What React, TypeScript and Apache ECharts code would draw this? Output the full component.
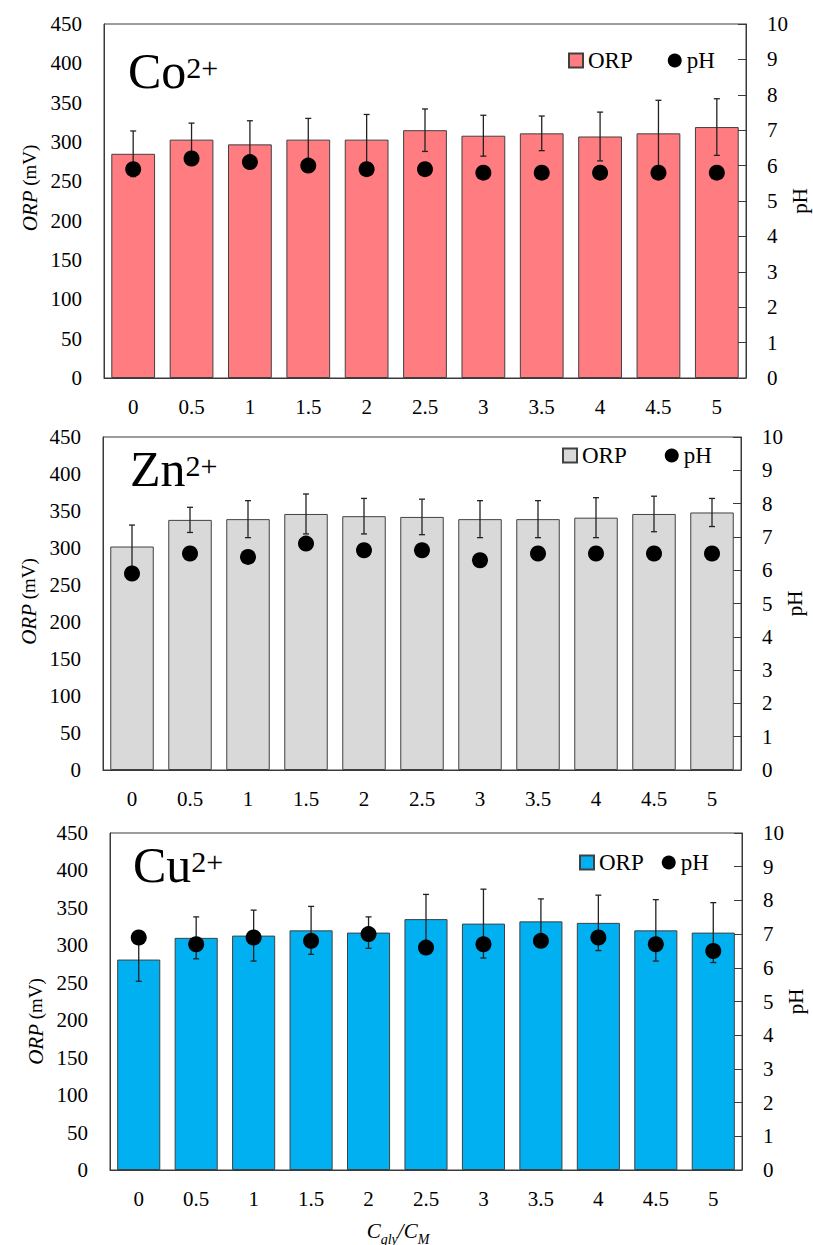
import React, { useEffect, useRef } from 'react';
import * as echarts from 'echarts';

const categories = ['0', '0.5', '1', '1.5', '2', '2.5', '3', '3.5', '4', '4.5', '5'];

const coOrp = [285, 303, 297, 303, 303, 315, 308, 311, 307, 311, 319];
const coOrpErr = [29, 21, 30, 27, 32, 27, 26, 22, 31, 42, 36];
const coPh = [5.9, 6.2, 6.1, 6.0, 5.9, 5.9, 5.8, 5.8, 5.8, 5.8, 5.8];

const znOrp = [302, 338, 339, 346, 343, 342, 339, 339, 341, 346, 348];
const znOrpErr = [29, 17, 25, 27, 24, 24, 25, 25, 27, 24, 19];
const znPh = [5.9, 6.5, 6.4, 6.8, 6.6, 6.6, 6.3, 6.5, 6.5, 6.5, 6.5];

const cuOrp = [281, 310, 313, 320, 317, 335, 329, 332, 330, 320, 317];
const cuOrpErr = [29, 28, 34, 32, 21, 33, 46, 30, 37, 41, 40];
const cuPh = [6.9, 6.7, 6.9, 6.8, 7.0, 6.6, 6.7, 6.8, 6.9, 6.7, 6.5];

const orpTicks = { min: 0, max: 450, interval: 50 };
const phTicks = { min: 0, max: 10, interval: 1 };

const FONT = 'Liberation Serif';
const LINE = '#3a3a3a';

const panels = [
  {
    key: 'Co', orp: coOrp, err: coOrpErr, ph: coPh, color: '#FF7C80',
    grid: { left: 104, top: 24, width: 642, height: 354 },
    title: { x: 128, y: 46 },
    legend: { left: 568, top: 49, gap: 35 },
    namePad: [0, 0, 0, 26],
  },
  {
    key: 'Zn', orp: znOrp, err: znOrpErr, ph: znPh, color: '#D9D9D9',
    grid: { left: 103, top: 437, width: 638, height: 333 },
    title: { x: 130, y: 444 },
    legend: { left: 562, top: 444, gap: 38 },
    namePad: [0, 0, 0, 4],
  },
  {
    key: 'Cu', orp: cuOrp, err: cuOrpErr, ph: cuPh, color: '#00B0F0',
    grid: { left: 110, top: 833, width: 632, height: 337 },
    title: { x: 133, y: 840 },
    legend: { left: 579, top: 851, gap: 18 },
    namePad: [0, 40, 0, 0],
  },
];

function renderErr(params: any, api: any) {
  const x = api.value(0);
  const lo = api.coord([x, api.value(1)]);
  const hi = api.coord([x, api.value(2)]);
  const w = 3;
  const style = { stroke: '#222', lineWidth: 1.3 };
  return {
    type: 'group',
    children: [
      { type: 'line', shape: { x1: lo[0], y1: lo[1], x2: hi[0], y2: hi[1] }, style },
      { type: 'line', shape: { x1: hi[0] - w, y1: hi[1], x2: hi[0] + w, y2: hi[1] }, style },
      { type: 'line', shape: { x1: lo[0] - w, y1: lo[1], x2: lo[0] + w, y2: lo[1] }, style },
    ],
  };
}

export default function App() {
  const ref = useRef<HTMLDivElement>(null);
  useEffect(() => {
    if (!ref.current) return;
    const chart = echarts.init(ref.current, null, { renderer: 'svg' });

    const grid = panels.map((p) => ({
      ...p.grid, show: true, borderColor: LINE, borderWidth: 1,
      containLabel: false, outerBoundsMode: 'none',
    }));
    const xAxis = panels.map((p, i) => ({
      type: 'category', gridIndex: i, data: categories,
      axisTick: { show: false },
      axisLine: { lineStyle: { color: LINE, width: 1 } },
      axisLabel: { color: '#000', fontFamily: FONT, fontSize: 21, margin: 18 },
    }));
    const yAxis: any[] = [];
    panels.forEach((p, i) => {
      yAxis.push({
        type: 'value', gridIndex: i, position: 'left', ...orpTicks,
        axisLine: { show: true, lineStyle: { color: LINE } },
        axisTick: { show: false }, splitLine: { show: false },
        axisLabel: { color: '#000', fontFamily: FONT, fontSize: 21, margin: 22 },
        name: '{i|ORP} (mV)', nameLocation: 'middle', nameGap: 64, nameRotate: 90,
        nameMoveOverlap: false,
        nameTextStyle: {
          color: '#000', fontFamily: FONT, fontSize: 19, padding: p.namePad,
          rich: { i: { fontStyle: 'italic', fontFamily: FONT, fontSize: 21, color: '#000' } },
        },
      });
      yAxis.push({
        type: 'value', gridIndex: i, position: 'right', ...phTicks,
        axisLine: { show: true, lineStyle: { color: LINE } },
        axisTick: { show: true, inside: true, length: 8, lineStyle: { color: LINE } },
        splitLine: { show: false },
        axisLabel: { color: '#000', fontFamily: FONT, fontSize: 21, margin: 21 },
        name: 'pH', nameLocation: 'middle', nameGap: 43, nameRotate: 90,
        nameMoveOverlap: false,
        nameTextStyle: { color: '#000', fontFamily: FONT, fontSize: 21 },
      });
    });

    const series: any[] = [];
    panels.forEach((p, i) => {
      series.push({
        type: 'bar', name: p.key + ' ORP', xAxisIndex: i, yAxisIndex: 2 * i,
        data: p.orp, barWidth: '75%', z: 2,
        itemStyle: { color: p.color, borderColor: '#404040', borderWidth: 1 },
      });
      series.push({
        type: 'custom', name: p.key + ' ORP error', xAxisIndex: i, yAxisIndex: 2 * i,
        data: p.orp.map((v, j) => [j, v - p.err[j], v + p.err[j]]),
        encode: { x: 0, y: [1, 2] }, renderItem: renderErr, z: 3, silent: true,
      });
      series.push({
        type: 'scatter', name: p.key + ' pH', xAxisIndex: i, yAxisIndex: 2 * i + 1,
        data: p.ph, symbol: 'circle', symbolSize: 16, z: 4,
        itemStyle: { color: '#000', opacity: 1 },
      });
    });

    const legend = panels.map((p) => ({
      data: [
        { name: p.key + ' ORP', icon: 'rect' },
        { name: p.key + ' pH', icon: 'circle' },
      ],
      left: p.legend.left, top: p.legend.top, itemGap: p.legend.gap,
      itemWidth: 14, itemHeight: 14, padding: 0, selectedMode: false,
      formatter: (n: string) => n.split(' ')[1],
      textStyle: { fontFamily: FONT, fontSize: 23, color: '#000' },
    }));

    const graphic: any[] = panels.map((p) => ({
      type: 'text', x: p.title.x, y: p.title.y, silent: true,
      style: {
        text: `{a|${p.key}}{b|2+}`, fill: '#000', verticalAlign: 'top',
        rich: {
          a: { fontSize: 50, lineHeight: 50, fontFamily: FONT, verticalAlign: 'top', fill: '#000' },
          b: { fontSize: 30, lineHeight: 30, fontFamily: FONT, verticalAlign: 'top', padding: [6, 0, 0, 0], fill: '#000' },
        },
      },
    }));
    graphic.push({
      type: 'text', x: 398, y: 1220, silent: true,
      style: {
        text: '{c|C}{s|gly}{c|/C}{s|M}', fill: '#000', align: 'center', verticalAlign: 'top',
        rich: {
          c: { fontSize: 21, lineHeight: 22, fontFamily: FONT, fontStyle: 'italic', verticalAlign: 'top', fill: '#000' },
          s: { fontSize: 14, lineHeight: 14, fontFamily: FONT, fontStyle: 'italic', verticalAlign: 'top', padding: [12, 0, 0, 0], fill: '#000' },
        },
      },
    });

    chart.setOption({
      animation: false,
      backgroundColor: '#fff',
      grid, xAxis, yAxis, series, legend, graphic,
    });
    return () => chart.dispose();
  }, []);
  return (
    <div
      ref={ref}
      style={{ position: 'absolute', left: 0, top: 0, width: 813, height: 1245 }}
    />
  );
}
